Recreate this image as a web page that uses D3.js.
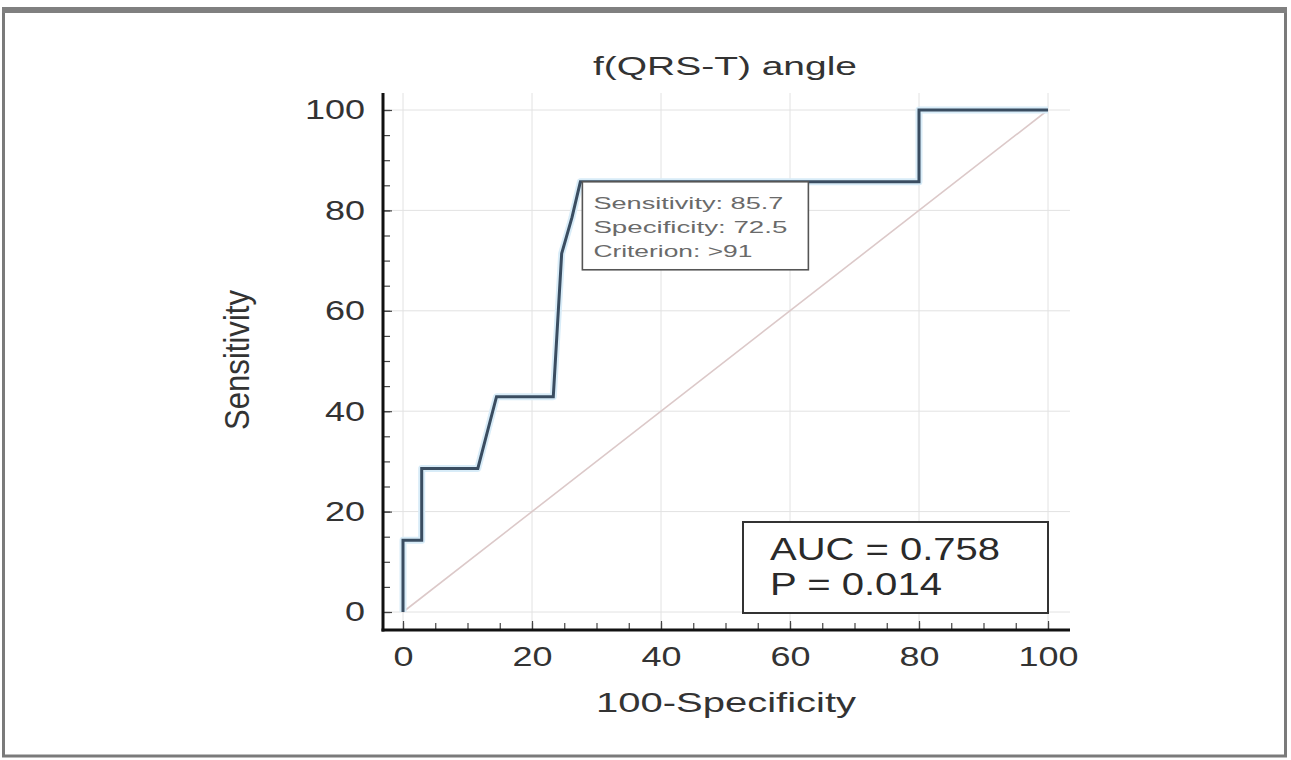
<!DOCTYPE html>
<html>
<head>
<meta charset="utf-8">
<script src="https://cdn.jsdelivr.net/npm/d3@7"></script>
<style>
  html, body { margin: 0; padding: 0; background: #fff; }
  svg text { font-family: "Liberation Sans", Arial, sans-serif; }
</style>
</head>
<body>
<script>
"use strict";

/* chart data */
var titleText = "f(QRS-T) angle";
var xLabel = "100-Specificity";
var yLabel = "Sensitivity";
var majorTicks = [0, 20, 40, 60, 80, 100];
var minorTicks = d3.range(0, 101, 5);
// ROC staircase: 100-specificity vs sensitivity
var rocX = [0, 0, 2.9, 2.9, 11.6, 14.5, 23.3, 24.6, 26.2, 27.5, 80, 80, 100];
var rocY = [0, 14.3, 14.3, 28.6, 28.6, 42.9, 42.9, 71.4, 78.6, 85.7, 85.7, 100, 100];
var cutoff = {x: 27.5, y: 85.7};
var cutoffLines = ["Sensitivity: 85.7", "Specificity: 72.5", "Criterion: >91"];
var statLines = ["AUC = 0.758", "P = 0.014"];

var W = 1291, H = 760;
var svg = d3.select("body").append("svg")
    .attr("width", W)
    .attr("height", H);

// outer frame
svg.append("rect").attr("x", 3.5).attr("y", 10).attr("width", 1282).attr("height", 746)
    .attr("fill", "none").attr("stroke", "#7a7a7a").attr("stroke-width", 3);
svg.append("rect").attr("x", 2).attr("y", 7).attr("width", 1285).attr("height", 6)
    .attr("fill", "#808080");

// scales
var x = d3.scaleLinear().domain([0, 100]).range([403, 1048]);
var y = d3.scaleLinear().domain([0, 100]).range([612, 110]);
var axisX = 383, axisY = 630, plotTop = 93, plotRight = 1070;

// grid
var grid = svg.append("g").attr("stroke", "#e2e2e2").attr("stroke-width", 1);
grid.selectAll(".vg").data(majorTicks).enter().append("line")
    .attr("x1", function(d) { return x(d); }).attr("x2", function(d) { return x(d); })
    .attr("y1", plotTop).attr("y2", axisY);
grid.selectAll(".hg").data(majorTicks).enter().append("line")
    .attr("y1", function(d) { return y(d); }).attr("y2", function(d) { return y(d); })
    .attr("x1", axisX).attr("x2", plotRight);

// minor / major ticks via d3 axes
function styleAxis(g) {
    g.select(".domain").remove();
    g.selectAll(".tick line").attr("stroke", "#444").attr("stroke-width", 1.2);
    g.selectAll("text")
        .attr("fill", "#333")
        .style("font-size", "28px")
        .attr("lengthAdjust", "spacingAndGlyphs")
        .attr("textLength", function(d) { return String(d).length * 20; });
}
svg.append("g").attr("transform", "translate(" + axisX + ",0)")
    .call(d3.axisLeft(y).tickValues(minorTicks).tickFormat("").tickSize(-7))
    .call(styleAxis);
svg.append("g").attr("transform", "translate(0," + axisY + ")")
    .call(d3.axisBottom(x).tickValues(minorTicks).tickFormat("").tickSize(-7))
    .call(styleAxis);
svg.append("g").attr("transform", "translate(" + axisX + ",0)")
    .call(d3.axisLeft(y).tickValues(majorTicks).tickSize(-9).tickPadding(18))
    .call(styleAxis);
svg.append("g").attr("transform", "translate(0," + axisY + ")")
    .call(d3.axisBottom(x).tickValues(majorTicks).tickSize(-9).tickPadding(16))
    .call(styleAxis);

// axis lines
svg.append("line").attr("x1", axisX).attr("x2", axisX).attr("y1", plotTop).attr("y2", axisY + 1.5)
    .attr("stroke", "#111").attr("stroke-width", 3);
svg.append("line").attr("x1", axisX - 1.5).attr("x2", plotRight).attr("y1", axisY).attr("y2", axisY)
    .attr("stroke", "#111").attr("stroke-width", 3);

// reference diagonal
svg.append("line")
    .attr("x1", x(0)).attr("y1", y(0)).attr("x2", x(100)).attr("y2", y(100))
    .attr("stroke", "#dcc9c9").attr("stroke-width", 1.6);

// ROC curve
var pts = rocX.map(function(d, i) { return [d, rocY[i]]; });
var line = d3.line().x(function(d) { return x(d[0]); }).y(function(d) { return y(d[1]); });
svg.append("path").datum(pts).attr("d", line)
    .attr("fill", "none").attr("stroke", "#d8ecf8").attr("stroke-width", 7).attr("stroke-linejoin", "round");
svg.append("path").datum(pts).attr("d", line)
    .attr("fill", "none").attr("stroke", "#3a4d61").attr("stroke-width", 3);

// cutoff annotation box
var bx = x(cutoff.x) + 2, by = y(cutoff.y);
svg.append("rect").attr("x", bx).attr("y", by).attr("width", 226).attr("height", 88)
    .attr("fill", "#fff").attr("stroke", "#555").attr("stroke-width", 1.6);
var cutWidths = [190, 194, 159];
svg.selectAll(".cut").data(cutoffLines).enter().append("text")
    .attr("x", bx + 11).attr("y", function(d, i) { return by + 27 + i * 24; })
    .attr("fill", "#6a6a6a").style("font-size", "17px")
    .attr("lengthAdjust", "spacingAndGlyphs")
    .attr("textLength", function(d, i) { return cutWidths[i]; })
    .text(function(d) { return d; });

// AUC box
svg.append("rect").attr("x", 743).attr("y", 522).attr("width", 305).attr("height", 91)
    .attr("fill", "#fff").attr("stroke", "#333").attr("stroke-width", 2);
var statWidths = [230, 172];
svg.selectAll(".stat").data(statLines).enter().append("text")
    .attr("x", 770).attr("y", function(d, i) { return 560 + i * 35; })
    .attr("fill", "#2a2a2a").style("font-size", "32px")
    .attr("lengthAdjust", "spacingAndGlyphs")
    .attr("textLength", function(d, i) { return statWidths[i]; })
    .text(function(d) { return d; });

// titles
svg.append("text").attr("x", 725).attr("y", 75).attr("text-anchor", "middle")
    .attr("fill", "#333").style("font-size", "26px")
    .attr("lengthAdjust", "spacingAndGlyphs").attr("textLength", 264)
    .text(titleText);
svg.append("text").attr("x", 726).attr("y", 712).attr("text-anchor", "middle")
    .attr("fill", "#333").style("font-size", "28px")
    .attr("lengthAdjust", "spacingAndGlyphs").attr("textLength", 260)
    .text(xLabel);
svg.append("text").attr("transform", "translate(249,360) scale(1.25,1) rotate(-90)")
    .attr("text-anchor", "middle")
    .attr("fill", "#333").style("font-size", "28px")
    .attr("lengthAdjust", "spacingAndGlyphs").attr("textLength", 140)
    .text(yLabel);
</script>
</body>
</html>
